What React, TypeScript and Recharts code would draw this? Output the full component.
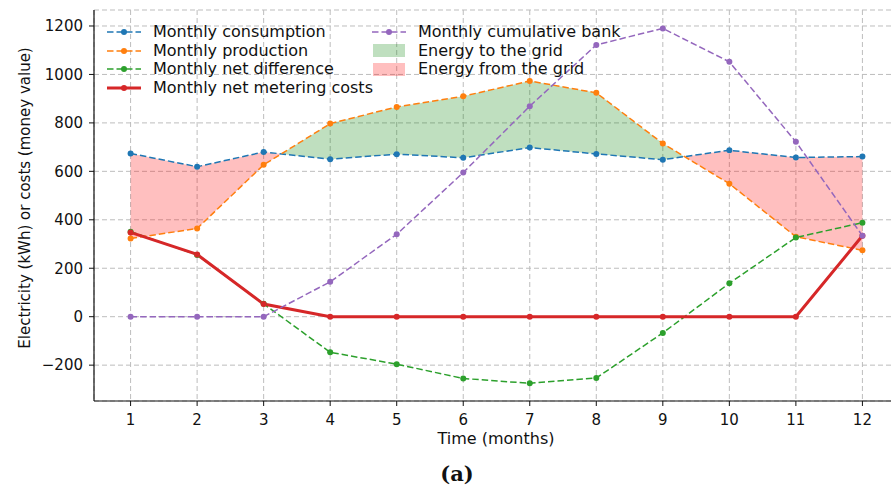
import React from "react";
import {
  ComposedChart,
  Line,
  Area,
  XAxis,
  YAxis,
  CartesianGrid,
} from "recharts";

const months = [1, 2, 3, 4, 5, 6, 7, 8, 9, 10, 11, 12];
const consumption = [674, 619, 680, 650, 671, 656, 698, 672, 648, 687, 657, 661];
const production = [323, 364, 627, 797, 866, 910, 973, 924, 715, 549, 330, 274];
const netDifference = [351, 255, 53, -147, -196, -255, -275, -253, -67, 138, 327, 388];
const meteringCosts = [348, 257, 52, 0, 0, 0, 0, 0, 0, 0, 0, 334];
const cumulativeBank = [0, 0, 0, 144, 340, 595, 869, 1122, 1190, 1052, 722, 334];
const yTicks = [-200, 0, 200, 400, 600, 800, 1000, 1200];

const BLUE = "#1f77b4";
const ORANGE = "#ff7f0e";
const GREEN = "#2ca02c";
const RED = "#d62728";
const PURPLE = "#9467bd";
const FONT = "'DejaVu Sans', sans-serif";

const lineData = months.map((m, i) => ({
  month: m,
  consumption: consumption[i],
  production: production[i],
  net: netDifference[i],
  cost: meteringCosts[i],
  bank: cumulativeBank[i],
}));

// fill_between style bands, split where production crosses consumption
const fillData: { month: number; green: number[]; red: number[] }[] = [];
months.forEach((m, i) => {
  const c = consumption[i];
  const p = production[i];
  fillData.push({
    month: m,
    green: p > c ? [c, p] : [c, c],
    red: c > p ? [p, c] : [c, c],
  });
  if (i < months.length - 1) {
    const d0 = p - c;
    const d1 = production[i + 1] - consumption[i + 1];
    if (d0 * d1 < 0) {
      const t = d0 / (d0 - d1);
      const y = c + t * (consumption[i + 1] - c);
      fillData.push({ month: m + t, green: [y, y], red: [y, y] });
    }
  }
});

const minus = (v: number) => String(v).replace("-", "\u2212");

const LineHandle = ({ color, dashed, width }: { color: string; dashed: boolean; width: number }) => (
  <svg width={36} height={12} style={{ display: "block" }}>
    <line
      x1={1}
      y1={6}
      x2={35}
      y2={6}
      stroke={color}
      strokeWidth={width}
      strokeDasharray={dashed ? "6.5 3" : undefined}
    />
    <circle cx={18} cy={6} r={3} fill={color} />
  </svg>
);

const legendLeft = [
  { label: "Monthly consumption", color: BLUE, dashed: true, width: 1.5 },
  { label: "Monthly production", color: ORANGE, dashed: true, width: 1.5 },
  { label: "Monthly net difference", color: GREEN, dashed: true, width: 1.5 },
  { label: "Monthly net metering costs", color: RED, dashed: false, width: 3 },
];

export default function App() {
  return (
    <div
      style={{
        position: "absolute",
        left: 0,
        top: 0,
        width: 891,
        height: 489,
        overflow: "hidden",
        background: "#fff",
        fontFamily: FONT,
        color: "#111",
      }}
    >
      <ComposedChart
        width={905}
        height={489}
        margin={{ top: 10, right: 6, left: 34, bottom: 0 }}
      >
        <CartesianGrid stroke="#bdbdbd" strokeDasharray="5 3" strokeWidth={1} />
        <XAxis
          dataKey="month"
          type="number"
          domain={[0.45, 12.55]}
          ticks={months}
          allowDataOverflow
          height={88}
          tickSize={5}
          tickMargin={8}
          stroke="#111"
          tick={{ fill: "#111", fontSize: 15, fontFamily: FONT }}
          axisLine={{ stroke: "#111", strokeWidth: 1.2 }}
        />
        <XAxis
          xAxisId="top"
          orientation="top"
          dataKey="month"
          type="number"
          domain={[0.45, 12.55]}
          height={0}
          tick={false}
          tickLine={false}
          axisLine={{ stroke: "#111", strokeWidth: 1.2 }}
        />
        <YAxis
          type="number"
          domain={[-348, 1266]}
          ticks={yTicks}
          tickFormatter={minus}
          allowDataOverflow
          width={60}
          tickSize={5}
          tickMargin={6}
          stroke="#111"
          tick={{ fill: "#111", fontSize: 15, fontFamily: FONT }}
          axisLine={{ stroke: "#111", strokeWidth: 1.2 }}
        />
        <Area
          data={fillData}
          dataKey="green"
          type="linear"
          stroke="none"
          fill="green"
          fillOpacity={0.25}
          isAnimationActive={false}
        />
        <Area
          data={fillData}
          dataKey="red"
          type="linear"
          stroke="none"
          fill="red"
          fillOpacity={0.25}
          isAnimationActive={false}
        />
        <Line
          data={lineData}
          dataKey="consumption"
          type="linear"
          stroke={BLUE}
          strokeWidth={1.5}
          strokeDasharray="6.5 3"
          dot={{ r: 3, fill: BLUE, stroke: BLUE, strokeWidth: 0, strokeDasharray: "" }}
          isAnimationActive={false}
        />
        <Line
          data={lineData}
          dataKey="production"
          type="linear"
          stroke={ORANGE}
          strokeWidth={1.5}
          strokeDasharray="6.5 3"
          dot={{ r: 3, fill: ORANGE, stroke: ORANGE, strokeWidth: 0, strokeDasharray: "" }}
          isAnimationActive={false}
        />
        <Line
          data={lineData}
          dataKey="net"
          type="linear"
          stroke={GREEN}
          strokeWidth={1.5}
          strokeDasharray="6.5 3"
          dot={{ r: 3, fill: GREEN, stroke: GREEN, strokeWidth: 0, strokeDasharray: "" }}
          isAnimationActive={false}
        />
        <Line
          data={lineData}
          dataKey="cost"
          type="linear"
          stroke={RED}
          strokeWidth={3}
          dot={{ r: 3, fill: RED, stroke: RED, strokeWidth: 0 }}
          isAnimationActive={false}
        />
        <Line
          data={lineData}
          dataKey="bank"
          type="linear"
          stroke={PURPLE}
          strokeWidth={1.5}
          strokeDasharray="6.5 3"
          dot={{ r: 3, fill: PURPLE, stroke: PURPLE, strokeWidth: 0, strokeDasharray: "" }}
          isAnimationActive={false}
        />
      </ComposedChart>

      {/* Legend, two columns, no frame */}
      <div style={{ position: "absolute", left: 106, top: 23, fontSize: 16, lineHeight: "18.6px" }}>
        {legendLeft.map((it) => (
          <div key={it.label} style={{ display: "flex", alignItems: "center", height: 18.6 }}>
            <LineHandle color={it.color} dashed={it.dashed} width={it.width} />
            <span style={{ marginLeft: 11, whiteSpace: "nowrap" }}>{it.label}</span>
          </div>
        ))}
      </div>
      <div style={{ position: "absolute", left: 371, top: 23, fontSize: 16, lineHeight: "18.6px" }}>
        <div style={{ display: "flex", alignItems: "center", height: 18.6 }}>
          <LineHandle color={PURPLE} dashed width={1.5} />
          <span style={{ marginLeft: 11, whiteSpace: "nowrap" }}>Monthly cumulative bank</span>
        </div>
        {[
          { label: "Energy to the grid", fill: "rgba(0,128,0,0.25)" },
          { label: "Energy from the grid", fill: "rgba(255,0,0,0.25)" },
        ].map((it) => (
          <div key={it.label} style={{ display: "flex", alignItems: "center", height: 18.6 }}>
            <div style={{ width: 32, height: 13, marginLeft: 2, background: it.fill }} />
            <span style={{ marginLeft: 13, whiteSpace: "nowrap" }}>{it.label}</span>
          </div>
        ))}
      </div>

      {/* Axis titles */}
      <div
        style={{
          position: "absolute",
          left: 25,
          top: 198,
          fontSize: 15,
          whiteSpace: "nowrap",
          transform: "translate(-50%, -50%) rotate(-90deg)",
        }}
      >
        Electricity (kWh) or costs (money value)
      </div>
      <div
        style={{
          position: "absolute",
          left: 496,
          top: 429,
          fontSize: 16,
          whiteSpace: "nowrap",
          transform: "translateX(-50%)",
        }}
      >
        Time (months)
      </div>
      <div
        style={{
          position: "absolute",
          left: 457,
          top: 461,
          fontSize: 21,
          fontWeight: "bold",
          fontFamily: "'DejaVu Serif', serif",
          transform: "translateX(-50%)",
        }}
      >
        (a)
      </div>
    </div>
  );
}
